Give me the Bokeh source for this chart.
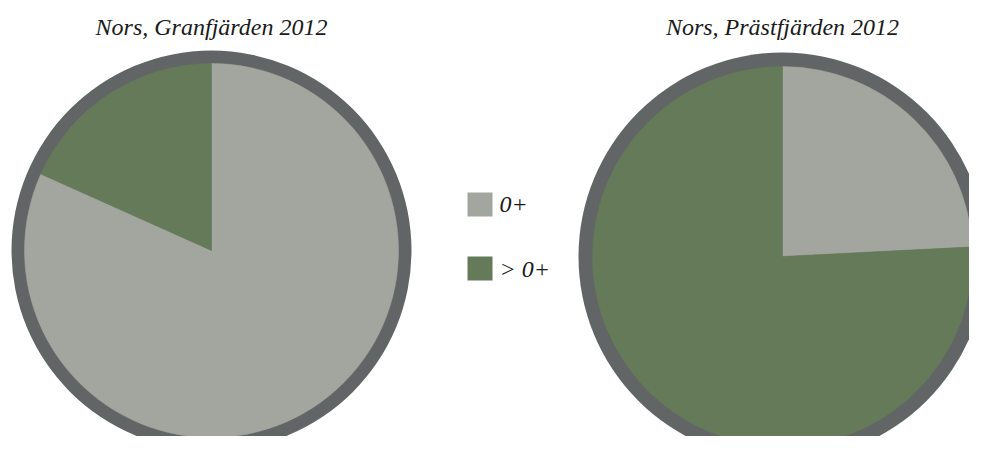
import numpy as np
from bokeh.plotting import figure
from bokeh.models import Range1d
from bokeh.core.properties import value
from bokeh.embed import file_html
from bokeh.resources import INLINE

# ---- data ----
categories = ["0+", "> 0+"]
legend_labels = ["0+", "> 0+"]
titles = ["Nors, Granfjärden 2012", "Nors, Prästfjärden 2012"]
granfjarden = [81.7, 18.3]   # percent: 0+, > 0+
prastfjarden = [24.2, 75.8]  # percent: 0+, > 0+
colors = ["#A2A69F", "#647A58"]
border_color = "#626566"

W, H = 969, 436
p = figure(width=W, height=H, output_backend="svg", toolbar_location=None,
           x_axis_type=None, y_axis_type=None, min_border=0,
           x_range=Range1d(0, W), y_range=Range1d(452 - H, 452))
p.outline_line_color = None
p.grid.visible = False
p.background_fill_color = "white"
p.border_fill_color = "white"

FONT = value("Liberation Serif")

def ytop(y):  # convert from top-based pixel to data
    return 452 - y

pies = [(211, 250, 200, 13, granfjarden, titles[0], 211),
        (782, 256, 204, 14, prastfjarden, titles[1], 782)]

for cx, cy, R, bw, vals, title, tx in pies:
    yc = ytop(cy)
    p.circle(x=[cx], y=[yc], radius=R, fill_color=border_color, line_color=None)
    v = np.array(vals, dtype=float)
    frac = v / v.sum()
    cum = np.concatenate([[0], np.cumsum(frac)])
    start = np.pi / 2 - cum[:-1] * 2 * np.pi
    end = np.pi / 2 - cum[1:] * 2 * np.pi
    p.wedge(x=[cx] * len(v), y=[yc] * len(v), radius=R - bw,
            start_angle=list(start), end_angle=list(end), direction="clock",
            fill_color=colors, line_color=colors, line_width=0.5)
    p.text(x=[tx], y=[ytop(26)], text=[title], text_font=FONT,
           text_font_style="italic", text_font_size="24px",
           text_align="center", text_baseline="middle", text_color="#1a1a1a")

# legend
leg_y = [204, 268]
for i, lab in enumerate(legend_labels):
    p.rect(x=[479.5], y=[ytop(leg_y[i])], width=25, height=24,
           fill_color=colors[i], line_color=None)
    p.text(x=[499], y=[ytop(leg_y[i])], text=[lab], text_font=FONT,
           text_font_style="italic", text_font_size="24px",
           text_align="left", text_baseline="middle", text_color="#1a1a1a")

open("out.html", "w").write(file_html(p, INLINE))
